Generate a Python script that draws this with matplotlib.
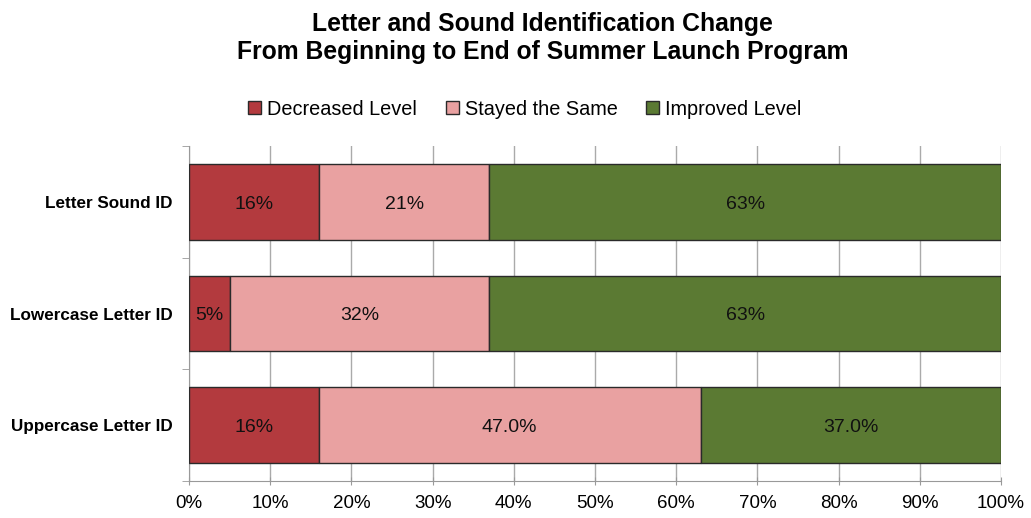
import matplotlib
matplotlib.use("Agg")
import matplotlib.pyplot as plt
import numpy as np

plt.rcParams['font.family'] = ['Liberation Sans', 'DejaVu Sans']

categories = ["Letter Sound ID", "Lowercase Letter ID", "Uppercase Letter ID"]
series_names = ["Decreased Level", "Stayed the Same", "Improved Level"]
decreased = [16, 5, 16]
stayed = [21, 32, 47]
improved = [63, 63, 37]
decreased_labels = ["16%", "5%", "16%"]
stayed_labels = ["21%", "32%", "47.0%"]
improved_labels = ["63%", "63%", "37.0%"]
xtick_values = [0, 10, 20, 30, 40, 50, 60, 70, 80, 90, 100]
xtick_labels = ["0%", "10%", "20%", "30%", "40%", "50%", "60%", "70%", "80%", "90%", "100%"]

colors = ["#B33A3E", "#E9A1A1", "#5B7A33"]

fig = plt.figure(figsize=(10.31, 5.18), dpi=100)
ax = fig.add_axes([189/1031, 37/518, 812/1031, 335/518])

y = np.arange(len(categories))
series = [decreased, stayed, improved]
labels = [decreased_labels, stayed_labels, improved_labels]
left = np.zeros(len(categories))
for vals, labs, col, name in zip(series, labels, colors, series_names):
    vals = np.array(vals, dtype=float)
    ax.barh(y, vals, left=left, height=0.68, color=col, edgecolor="#2a2a2a",
            linewidth=1.0, label=name, zorder=3)
    for yi, (l, v, t) in enumerate(zip(left, vals, labs)):
        ax.text(l + v / 2, yi + 0.02, t, ha="center", va="center", fontsize=14,
                color="#111111", zorder=4)
    left = left + vals

ax.set_ylim(2.5, -0.5)
ax.set_xlim(0, 100)
ax.set_xticks(xtick_values)
ax.set_xticklabels(xtick_labels, fontsize=13.5)
ax.set_yticks(y)
ax.set_yticklabels(categories, fontsize=12.3, fontweight="bold")
ax.set_yticks([-0.5, 0.5, 1.5, 2.5], minor=True)
ax.tick_params(axis="y", which="major", length=0, pad=12)
ax.tick_params(axis="y", which="minor", length=5, color="#999999", direction="out")
ax.tick_params(axis="x", which="major", length=6, color="#999999", direction="inout", pad=7)

ax.grid(axis="x", color="#aaaaaa", linewidth=1.0, zorder=0)
for s in ["top", "right"]:
    ax.spines[s].set_visible(False)
ax.spines["left"].set_color("#999999")
ax.spines["bottom"].set_color("#999999")

fig.suptitle("Letter and Sound Identification Change\nFrom Beginning to End of Summer Launch Program",
             x=0.526, y=0.976, fontsize=17.8, fontweight="bold", linespacing=1.18)

leg = fig.legend(loc="center", bbox_to_anchor=(0.509, 0.789), ncol=3, frameon=False,
                 fontsize=14.3, handlelength=0.65, handleheight=0.65, handletextpad=0.3,
                 columnspacing=1.45)

fig.savefig("out.png", dpi=100)
